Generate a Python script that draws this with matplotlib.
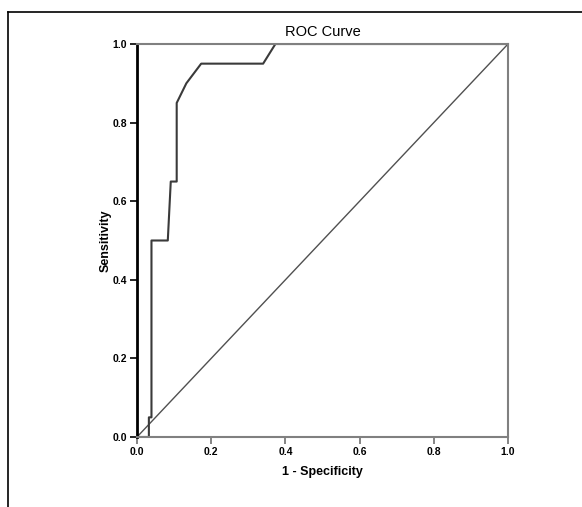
import matplotlib
matplotlib.use('Agg')
import matplotlib.pyplot as plt
from matplotlib.lines import Line2D

# ROC curve
fpr = [0.0, 0.032, 0.032, 0.039, 0.039, 0.083, 0.091, 0.107, 0.107, 0.133, 0.173, 0.340, 0.373, 1.0]
tpr = [0.0, 0.0, 0.05, 0.05, 0.50, 0.50, 0.65, 0.65, 0.85, 0.90, 0.95, 0.95, 1.0, 1.0]
ref_line = [0.0, 1.0]
ticks = [0.0, 0.2, 0.4, 0.6, 0.8, 1.0]
tick_labels = ['0.0', '0.2', '0.4', '0.6', '0.8', '1.0']

plt.rcParams['font.family'] = ['Liberation Sans', 'DejaVu Sans']

W, H = 582, 507
fig = plt.figure(figsize=(W / 100, H / 100), dpi=100)
ax = fig.add_axes([137 / W, 1 - 437 / H, (508 - 137) / W, (437 - 44) / H])

ax.plot(ref_line, ref_line, color='#505050', linewidth=1.0)
ax.plot(fpr, tpr, color='#3a3a3a', linewidth=1.5)

ax.set_xlim(0, 1)
ax.set_ylim(0, 1)
ax.set_xticks(ticks)
ax.set_yticks(ticks)
ax.set_xticklabels(tick_labels, fontsize=7.5, fontweight='bold')
ax.set_yticklabels(tick_labels, fontsize=7.5, fontweight='bold')
ax.tick_params(direction='out', length=5, width=1.2, pad=2, colors='black')
ax.tick_params(axis='x', color='#707070')

for side in ['top', 'right', 'bottom']:
    ax.spines[side].set_color('#808080')
    ax.spines[side].set_linewidth(1.5)
ax.spines['left'].set_color('black')
ax.spines['left'].set_linewidth(2)

ax.set_title('ROC Curve', fontsize=10.5, pad=6)
ax.set_xlabel('1 - Specificity', fontsize=9, fontweight='bold', labelpad=7)
ax.set_ylabel('Sensitivity', fontsize=9, fontweight='bold', labelpad=1)

# outer frame (top and left edges only)
fig.add_artist(Line2D([8 / W, 8 / W], [0, 1 - 12 / H], transform=fig.transFigure, color='black', linewidth=1.2))
fig.add_artist(Line2D([8 / W, 1], [1 - 12 / H, 1 - 12 / H], transform=fig.transFigure, color='black', linewidth=1.2))

fig.savefig('out.png', dpi=100)
